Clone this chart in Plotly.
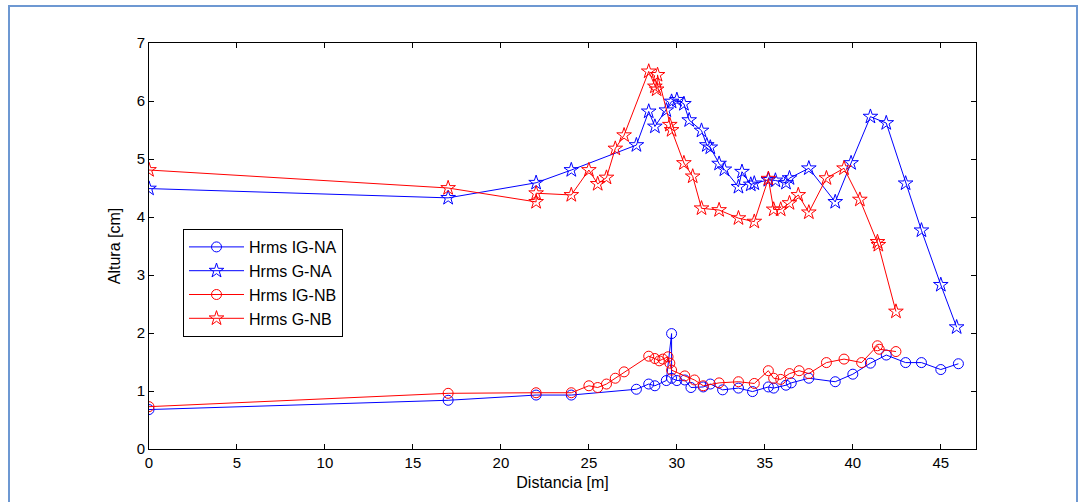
import plotly.graph_objects as go

# Hrms IG-NA (blue circles)
x_ig_na = [0, 17, 22, 24, 27.7, 28.4, 28.75, 29.4, 29.7, 29.7, 30.0, 30.45, 30.8, 31.5, 31.9,
           32.6, 33.5, 34.3, 35.2, 35.5, 36.2, 36.5, 37.5, 39.0, 40.0, 41.0, 41.9, 43.0, 43.9, 45.0, 46.0]
y_ig_na = [0.68, 0.84, 0.93, 0.93, 1.03, 1.12, 1.09, 1.18, 1.99, 1.22, 1.18, 1.19, 1.06, 1.07, 1.12,
           1.02, 1.05, 0.99, 1.07, 1.05, 1.10, 1.14, 1.22, 1.16, 1.29, 1.48, 1.62, 1.49, 1.49, 1.37, 1.47]

# Hrms G-NA (blue stars)
x_g_na = [0, 17, 22, 24, 27.7, 28.4, 28.75, 29.4, 29.7, 30.0, 30.4, 30.7, 31.4, 31.7, 31.9, 32.4,
          32.7, 33.5, 33.7, 34.2, 34.4, 35.2, 35.6, 36.2, 36.4, 37.5, 39.0, 39.9, 41.0, 41.9, 43.0,
          43.9, 45.0, 45.9]
y_g_na = [4.49, 4.33, 4.59, 4.81, 5.24, 5.82, 5.56, 5.84, 5.99, 6.02, 5.95, 5.67, 5.49, 5.24, 5.20, 4.92,
          4.82, 4.52, 4.78, 4.56, 4.58, 4.64, 4.63, 4.59, 4.67, 4.84, 4.26, 4.93, 5.73, 5.62, 4.58,
          3.77, 2.83, 2.10]

# Hrms IG-NB (red circles)
x_ig_nb = [0, 17, 22, 24, 25, 25.5, 26, 26.5, 27, 28.4, 28.75, 29.0, 29.2, 29.5, 29.6, 29.7, 30.45,
           31.0, 31.5, 32.4, 33.5, 34.4, 35.2, 35.5, 35.9, 36.4, 36.95, 37.5, 38.5, 39.5, 40.5, 41.4,
           41.5, 42.45]
y_ig_nb = [0.73, 0.96, 0.97, 0.97, 1.09, 1.06, 1.12, 1.22, 1.33, 1.60, 1.56, 1.52, 1.55, 1.59, 1.48, 1.36, 1.26,
           1.19, 1.09, 1.14, 1.16, 1.13, 1.35, 1.22, 1.20, 1.30, 1.35, 1.30, 1.49, 1.55, 1.49, 1.78,
           1.72, 1.68]

# Hrms G-NB (red stars)
x_g_nb = [0, 17, 22, 22, 24, 25, 25.5, 26, 26.5, 27, 28.4, 28.75, 28.85, 28.9, 29.6, 29.7, 30.4, 30.9,
          31.4, 32.4, 33.5, 34.4, 35.2, 35.5, 35.9, 36.4, 36.9, 37.5, 38.5, 39.5, 40.4, 41.4, 41.45, 42.45]
y_g_nb = [4.81, 4.50, 4.26, 4.41, 4.38, 4.81, 4.57, 4.68, 5.18, 5.41, 6.51, 6.25, 6.20, 6.45, 5.59, 5.50, 4.93, 4.70,
          4.15, 4.12, 3.98, 3.92, 4.66, 4.13, 4.13, 4.24, 4.38, 4.08, 4.67, 4.84, 4.30, 3.57, 3.52, 2.37]

x_ticks = [0, 5, 10, 15, 20, 25, 30, 35, 40, 45]
y_ticks = [0, 1, 2, 3, 4, 5, 6, 7]

BLUE = "#0000ff"
RED = "#ff0000"
FONT = "Liberation Sans, Arial, sans-serif"

fig = go.Figure()
series = [
    ("Hrms IG-NA", x_ig_na, y_ig_na, BLUE, "circle-open", 10),
    ("Hrms G-NA", x_g_na, y_g_na, BLUE, "star-open", 11),
    ("Hrms IG-NB", x_ig_nb, y_ig_nb, RED, "circle-open", 10),
    ("Hrms G-NB", x_g_nb, y_g_nb, RED, "star-open", 11),
]
for name, xs, ys, col, sym, sz in series:
    fig.add_trace(go.Scatter(
        x=xs, y=ys, name=name, mode="lines+markers",
        line=dict(color=col, width=1),
        marker=dict(symbol=sym, size=sz, color=col, line=dict(color=col, width=1)),
    ))

L, R, T, B = 149, 976, 43, 449
W, H = 1079, 502
pw, ph = R - L, B - T

def px_x(p):
    return (p - L) / pw

def px_y(p):
    return (B - p) / ph

fig.add_shape(type="rect", xref="paper", yref="paper",
              x0=px_x(9), x1=px_x(1077), y0=px_y(510), y1=px_y(6),
              line=dict(color="#6d98d2", width=2), fillcolor="rgba(0,0,0,0)", layer="below")

axis_common = dict(
    showgrid=False, zeroline=False, showline=True, linecolor="black", linewidth=1,
    mirror="ticks", ticks="inside", ticklen=5, tickcolor="black", tickwidth=1,
    tickfont=dict(family=FONT, size=15, color="black"),
)
fig.update_xaxes(range=[0, 47], tickvals=x_ticks, ticktext=[str(v) for v in x_ticks],
                 title=dict(text="Distancia [m]", font=dict(family=FONT, size=16, color="black"), standoff=6),
                 **axis_common)
fig.update_yaxes(range=[0, 7], tickvals=y_ticks, ticktext=[str(v) for v in y_ticks],
                 title=dict(text="Altura [cm]", font=dict(family=FONT, size=16, color="black"), standoff=12),
                 **axis_common)

fig.update_layout(
    width=W, height=H,
    margin=dict(l=L, r=W - R, t=T, b=H - B),
    paper_bgcolor="white", plot_bgcolor="white",
    font=dict(family=FONT, size=15, color="black"),
    showlegend=True,
    legend=dict(x=px_x(183), y=px_y(229), xanchor="left", yanchor="top",
                bgcolor="white", bordercolor="black", borderwidth=1,
                font=dict(family=FONT, size=16, color="black"),
                itemwidth=55, tracegroupgap=0),
)

fig.write_html("out.html")
